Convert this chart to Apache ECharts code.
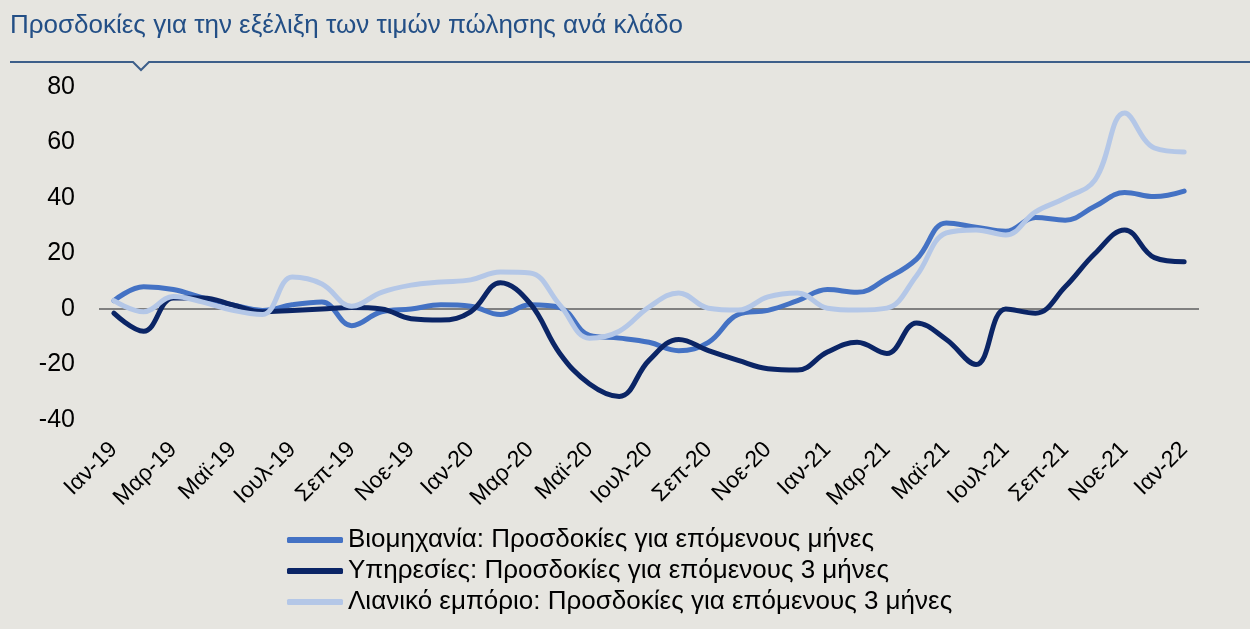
<!DOCTYPE html>
<html>
<head>
<meta charset="utf-8">
<title>Προσδοκίες τιμών πώλησης</title>
<script src="https://cdn.jsdelivr.net/npm/echarts@6/dist/echarts.min.js"></script>
<style>
  html, body { margin: 0; padding: 0; background: #e6e5e0; }
  #chart { width: 1250px; height: 629px; }
</style>
</head>
<body>
<div id="chart"></div>
<script>
// μήνες Ιαν-19 .. Ιαν-22
const months = [
  'Ιαν-19', 'Φεβ-19', 'Μαρ-19', 'Απρ-19', 'Μαϊ-19', 'Ιουν-19', 'Ιουλ-19', 'Αυγ-19', 'Σεπ-19', 'Οκτ-19', 'Νοε-19', 'Δεκ-19',
  'Ιαν-20', 'Φεβ-20', 'Μαρ-20', 'Απρ-20', 'Μαϊ-20', 'Ιουν-20', 'Ιουλ-20', 'Αυγ-20', 'Σεπ-20', 'Οκτ-20', 'Νοε-20', 'Δεκ-20',
  'Ιαν-21', 'Φεβ-21', 'Μαρ-21', 'Απρ-21', 'Μαϊ-21', 'Ιουν-21', 'Ιουλ-21', 'Αυγ-21', 'Σεπ-21', 'Οκτ-21', 'Νοε-21', 'Δεκ-21',
  'Ιαν-22'
]

const seriesNames = [
  'Βιομηχανία: Προσδοκίες για επόμενους μήνες',
  'Υπηρεσίες: Προσδοκίες για επόμενους 3 μήνες',
  'Λιανικό εμπόριο: Προσδοκίες για επόμενους 3 μήνες'
]

const industry = [
  3, 8, 7, 4, 1.5, -0.5, 1.5, 2.5, -6, -1, 0, 1.5,
  1, -2, 1.5, 0.5, -9.5, -10.5, -12, -15, -12, -2, -0.5, 3,
  7, 6, 11, 18, 31, 29.5, 28, 33, 32, 37, 42, 40.5,
  42.5
]

const services = [
  -1.5, -8, 4, 4, 1.5, -1, -0.5, 0, 0.5, 0, -3.5, -4,
  -1, 9.5, 2, -16, -27, -31.5, -18.5, -11, -15, -18.5, -21.5, -22,
  -15.5, -12, -16, -5, -11, -20, 0, -1.5, 8, 20, 28.5, 18.5,
  17
]

const retail = [
  3, -1, 4.5, 2.5, -0.5, -2, 11.5, 9, 1, 6, 8.6, 9.7,
  10.5, 13.3, 13, 1.5, -10.5, -8, 0.7, 5.8, 0.3, -0.4, 4.4, 5.8,
  0.3, -0.4, 0.3, 12, 27.4, 28.5, 26.7, 35, 40, 46.5, 70.6, 58,
  56.6
]

const colors = ['#4472c4', '#0b2566', '#b4c7e7']
const font = '"Liberation Sans", Arial, sans-serif'

function lineSeries (name, data, color, extra) {
  return Object.assign({
    name: name,
    type: 'line',
    data: data,
    smooth: 0.4,
    symbol: 'none',
    lineStyle: { width: 5, color: color, cap: 'round' },
    itemStyle: { color: color }
  }, extra || {})
}

const chart = echarts.init(document.getElementById('chart'))

chart.setOption({
  backgroundColor: '#e6e5e0',
  animation: false,
  title: {
    text: 'Προσδοκίες για την εξέλιξη των τιμών πώλησης ανά κλάδο',
    left: 5,
    top: 8,
    textStyle: { fontFamily: font, fontSize: 26, fontWeight: 'normal', color: '#234f86' }
  },
  graphic: [
    { // γραμμή κάτω από τον τίτλο με τη μικρή εγκοπή
      type: 'polyline',
      shape: { points: [[10, 62], [133, 62], [141, 70], [149, 62], [1250, 62]] },
      style: { stroke: '#3d5f8a', lineWidth: 2, fill: null }
    }
  ],
  grid: { left: 99, right: 51, top: 87, bottom: 209 },
  legend: {
    orient: 'vertical',
    left: 282,
    top: 522,
    padding: [5, 5, 5, 5],
    itemGap: 5,
    itemWidth: 56,
    itemHeight: 6,
    icon: 'roundRect',
    textStyle: { fontFamily: font, fontSize: 26, color: '#000' },
    data: seriesNames
  },
  xAxis: {
    type: 'category',
    boundaryGap: true,
    data: months,
    axisLine: { show: false },
    axisTick: { show: false },
    axisLabel: {
      interval: 1,
      rotate: 45,
      margin: 26,
      fontFamily: font,
      fontSize: 23,
      color: '#000'
    }
  },
  yAxis: {
    type: 'value',
    min: -40,
    max: 80,
    interval: 20,
    splitLine: { show: false },
    axisLine: { show: false },
    axisTick: { show: false },
    axisLabel: { margin: 24, fontFamily: font, fontSize: 25, color: '#000' }
  },
  series: [
    lineSeries(seriesNames[0], industry, colors[0], {
      markLine: { // οριζόντια γραμμή στο μηδέν
        silent: true,
        symbol: 'none',
        label: { show: false },
        lineStyle: { color: '#808080', width: 2, type: 'solid' },
        data: [{ yAxis: 0 }],
        z: 1
      }
    }),
    lineSeries(seriesNames[1], services, colors[1]),
    lineSeries(seriesNames[2], retail, colors[2])
  ]
})
</script>
</body>
</html>
